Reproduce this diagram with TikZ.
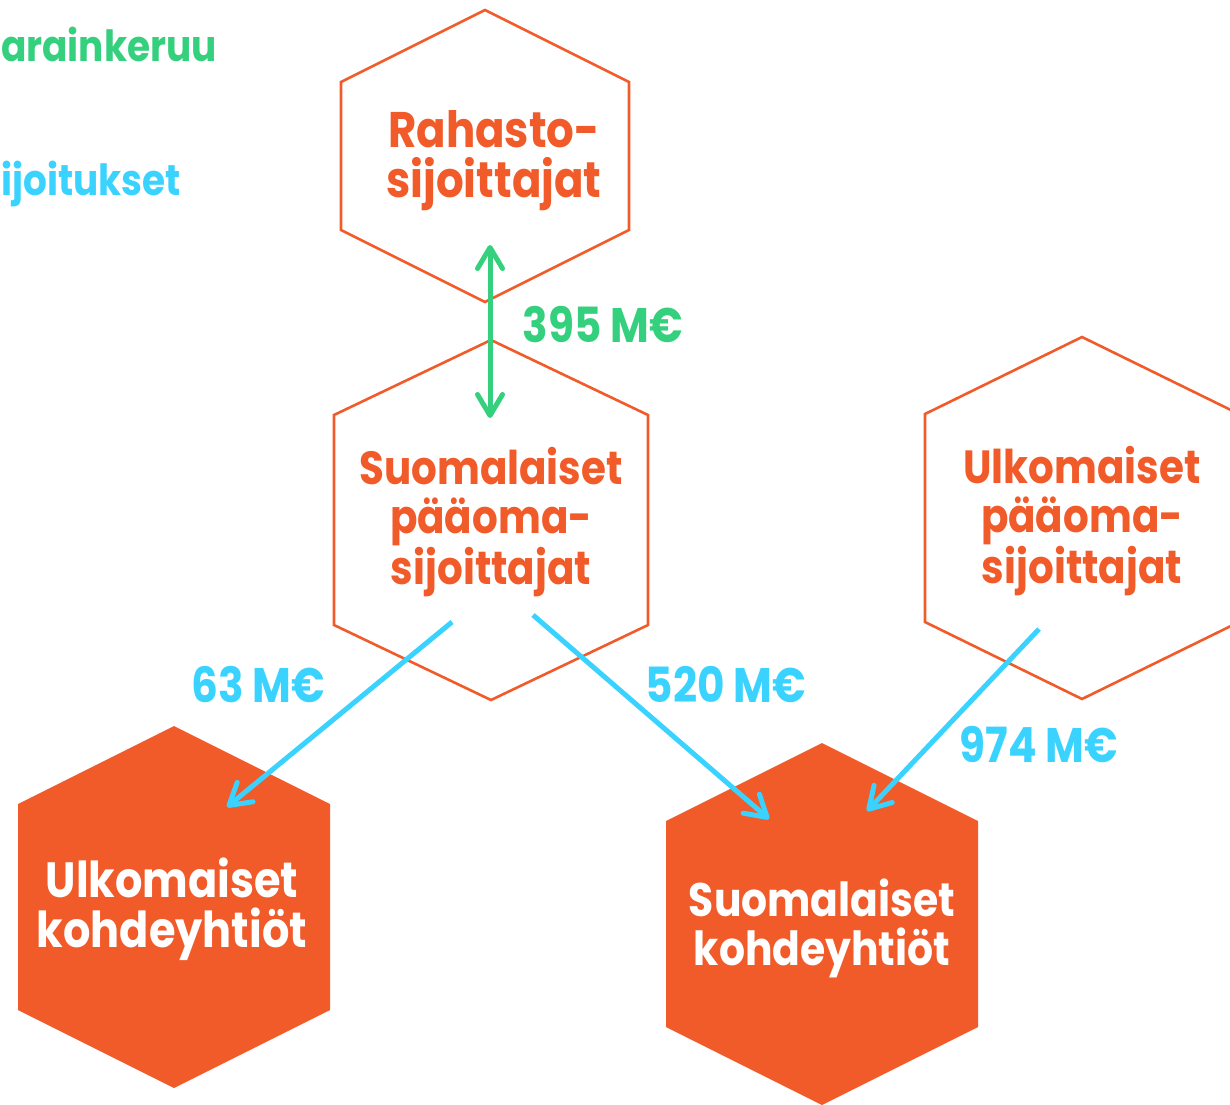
\documentclass[tikz,border=0pt]{standalone}
\usepackage{fontspec}
\setmainfont{Poppins}[FakeStretch=0.87]
\usetikzlibrary{arrows.meta}
\definecolor{hexorange}{RGB}{241,90,41}
\definecolor{flowgreen}{RGB}{53,208,125}
\definecolor{flowblue}{RGB}{58,211,255}
% style, cx, cy, half width, half height, shoulder offset
\newcommand{\hexshape}[6]{%
  \path[#1] (#2,#3-#5) -- (#2+#4,#3-#6) -- (#2+#4,#3+#6) -- (#2,#3+#5)
    -- (#2-#4,#3+#6) -- (#2-#4,#3-#6) -- cycle;}
\tikzset{
  flowtip/.tip={Straight Barb[length=21pt,width=25pt,line cap=round,line join=round]},
  hexline/.style={draw=hexorange, line width=2.6pt, line join=miter},
  hexfill/.style={fill=hexorange},
  greenflow/.style={draw=flowgreen, line width=5pt, {flowtip}-{flowtip}},
  blueflow/.style={draw=flowblue, line width=5pt, -{flowtip}},
  hextext/.style={inner sep=0pt, align=center, text=hexorange,
    font=\fontsize{46.5}{49}\selectfont\bfseries},
  whitetext/.style={inner sep=0pt, align=center, text=white,
    font=\fontsize{49.5}{50}\selectfont\bfseries},
  amount/.style={inner sep=0pt, font=\fontsize{48.5}{49}\selectfont\bfseries},
  legend/.style={inner sep=0pt, font=\fontsize{43}{44}\selectfont\bfseries},
}
\begin{document}
\begin{tikzpicture}[x=1pt,y=-1pt]
\useasboundingbox (0,0) rectangle (1230,1104);
\clip (0,0) rectangle (1230,1104);
% outline hexagons
\hexshape{hexline}{485}{156}{144}{146}{74}
\hexshape{hexline}{491}{520}{157}{180}{105}
\hexshape{hexline}{1082}{518}{157}{181}{104}
% green flow
\coordinate (g1) at (490,245);
\coordinate (g2) at (490,418);
\draw[greenflow] (g1) -- (g2);
% filled hexagons
\hexshape{hexfill}{174}{907}{156}{181}{103}
\hexshape{hexfill}{822}{924}{156}{181}{103}
% blue flows
\coordinate (b1s) at (452,622);
\coordinate (b1e) at (227,807);
\coordinate (b2s) at (533,615);
\coordinate (b2e) at (769,819);
\coordinate (b3s) at (1039,629);
\coordinate (b3e) at (867,811);
\draw[blueflow] (b1s) -- (b1e);
\draw[blueflow] (b2s) -- (b2e);
\draw[blueflow] (b3s) -- (b3e);
% texts (anchor = baseline of the last line)
\node[hextext, font=\fontsize{50}{50}\selectfont\bfseries, anchor=base] (rahasto) at (494,197) {Rahasto-\\sijoittajat};
\node[hextext, anchor=base] (suompaa) at (491,584) {Suomalaiset\\pääoma-\\sijoittajat};
\node[hextext, anchor=base] (ulkpaa) at (1082,583) {Ulkomaiset\\pääoma-\\sijoittajat};
\node[whitetext, anchor=base] (ulkkoh) at (172,947) {Ulkomaiset\\kohdeyhtiöt};
\node[whitetext, font=\fontsize{47}{49}\selectfont\bfseries, anchor=base] (suomkoh) at (822,965) {Suomalaiset\\kohdeyhtiöt};
\node[amount, text=flowgreen, anchor=base] (a395) at (603,342) {395 M€};
\node[amount, text=flowblue, anchor=base] (a63) at (258,702) {63 M€};
\node[amount, text=flowblue, anchor=base] (a520) at (726,702) {520 M€};
\node[amount, text=flowblue, anchor=base] (a974) at (1039,762) {974 M€};
\node[legend, text=flowgreen, anchor=base east] (legvar) at (217,61) {Varainkeruu};
\node[legend, text=flowblue, anchor=base east] (legsij) at (181,195) {Sijoitukset};
\end{tikzpicture}
\end{document}
